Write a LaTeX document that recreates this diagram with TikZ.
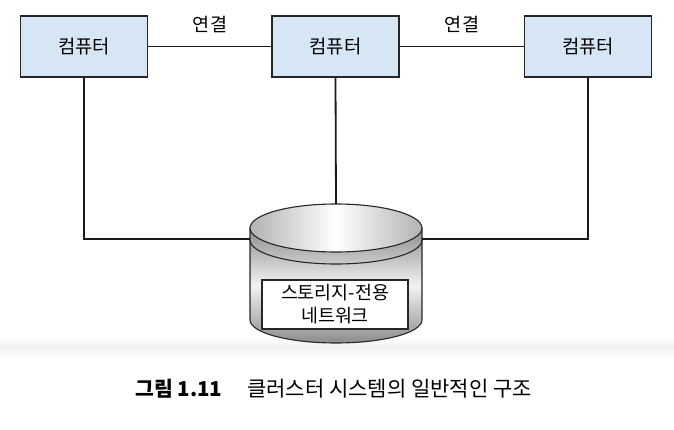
\documentclass[tikz,border=0pt]{standalone}
\usepackage{fontspec}
\setmainfont{Noto Sans CJK KR}
\definecolor{boxblue}{RGB}{214,230,245}
\tikzset{
  pcbox/.style={draw=black!85, line width=1.1pt, fill=boxblue, minimum width=127pt, minimum height=61pt, inner sep=0pt, font=\fontsize{18.8}{22}\selectfont},
  link/.style={line width=1.8pt, black!90},
  lbl/.style={inner sep=0pt, font=\fontsize{18.5}{22}\selectfont},
  cyl/.style={line width=1.1pt, draw=black!85}
}
\begin{document}
\begin{tikzpicture}[x=1pt,y=-1pt]
\useasboundingbox (0,0) rectangle (674,430);
% faint scan band
\shade[top color=white, bottom color=white, middle color=black!5] (0,336) rectangle (674,358);

% computers
\node[pcbox] (c1) at (84,46.5) {컴퓨터};
\node[pcbox] (c2) at (335.5,46.5) {컴퓨터};
\node[pcbox] (c3) at (588,46.5) {컴퓨터};

\node[lbl] (l1) at (210,24) {연결};
\node[lbl] (l2) at (462,24) {연결};

% cylinder
\shade[left color=black!45, right color=black!45, middle color=black!5, shading angle=0]
  (250,228) -- (250,320) arc[start angle=180, end angle=360, x radius=86pt, y radius=23pt] -- (422,228) -- cycle;
\draw[cyl] (250,228) -- (250,320) arc[start angle=180, end angle=360, x radius=86pt, y radius=23pt] -- (422,228);
% rim
\draw[cyl] (250,240) arc[start angle=180, end angle=360, x radius=86pt, y radius=24pt];
% top face
\shade[left color=black!30, right color=black!30, middle color=white, draw=black!85, line width=1.1pt]
  (336,228) ellipse[x radius=86pt, y radius=24pt];
\coordinate (ctop) at (336,204);
\coordinate (cl) at (250,239);
\coordinate (cr) at (422,239);

\node[draw=black!85, line width=1.1pt, fill=white, minimum width=146pt, minimum height=49pt, inner sep=0pt, align=center, font=\fontsize{18.4}{23}\selectfont] (st) at (335,304.5) {스토리지-전용\\네트워크};

% connectors
\draw[link] (c1.east) -- (c2.west);
\draw[link] (c2.east) -- (c3.west);
\draw[link] (c2.south) -- (ctop);
\draw[link] (c1.south) |- (cl);
\draw[link] (c3.south) |- (cr);

% caption
\node[anchor=west, inner sep=0pt, font=\fontsize{20.5}{24}\selectfont\bfseries] (cap1) at (135,389) {그림 1.11};
\node[anchor=west, inner sep=0pt, font=\fontsize{21}{24}\selectfont] (cap2) at (247,389) {클러스터 시스템의 일반적인 구조};
\end{tikzpicture}
\end{document}
